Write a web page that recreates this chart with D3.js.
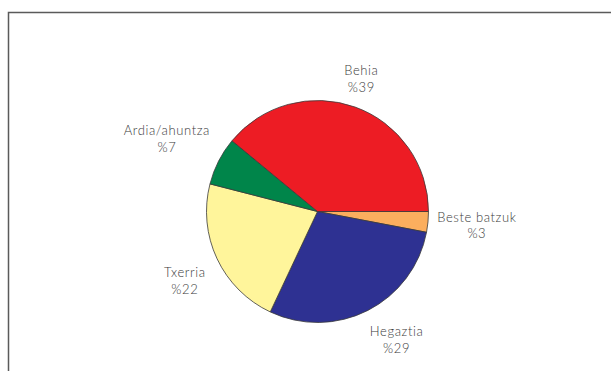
<!DOCTYPE html>
<html>
<head>
<meta charset="utf-8">
<script src="https://cdn.jsdelivr.net/npm/d3@7"></script>
<style>
  html, body { margin: 0; padding: 0; background: #fff; }
  svg { display: block; }
  .lbl { font-family: Lato, "Open Sans", sans-serif; font-weight: 300; font-size: 13px; fill: #3a3a3a; letter-spacing: 0.6px; }
</style>
</head>
<body>
<svg id="chart" width="611" height="371"></svg>
<script>
// Livestock shares, clockwise from 3 o'clock
const categories = ["Beste batzuk", "Hegaztia", "Txerria", "Ardia/ahuntza", "Behia"];
const shares = [3, 29, 22, 7, 39];
const colors = ["#fbae5e", "#2e3192", "#fff59b", "#00854a", "#ed1c24"];

const W = 611, H = 371;
const svg = d3.select("#chart");

// outer frame
svg.append("path")
  .attr("d", "M8.5,371 L8.5,12.5 L611,12.5")
  .attr("fill", "none")
  .attr("stroke", "#5a5a5a")
  .attr("stroke-width", 1.5);

const cx = 317.5, cy = 211.5, r = 111;
const g = svg.append("g").attr("transform", `translate(${cx},${cy})`);

const pie = d3.pie()
  .sort(null)
  .value(d => d.value)
  .startAngle(Math.PI / 2)
  .endAngle(Math.PI / 2 + 2 * Math.PI);

const data = categories.map((c, i) => ({ name: c, value: shares[i], color: colors[i] }));
const arcs = pie(data);

const arc = d3.arc().innerRadius(0).outerRadius(r);

g.selectAll("path.slice")
  .data(arcs)
  .join("path")
  .attr("class", "slice")
  .attr("d", arc)
  .attr("fill", d => d.data.color)
  .attr("stroke", "#3a3a3a")
  .attr("stroke-width", 0.8)
  .attr("stroke-linejoin", "round");

// labels sit outside the pie along each slice's mid-angle, nudged to clear the rim
const labelR = 150;
const nudge = [[10, -4], [11, -9], [3, 2], [-17, -8], [-7, 5]];
const lineGap = 16.5;

arcs.forEach((a, i) => {
  const mid = (a.startAngle + a.endAngle) / 2;
  const x = Math.sin(mid) * labelR + nudge[i][0];
  const y = -Math.cos(mid) * labelR + nudge[i][1];
  const t = g.append("text")
    .attr("class", "lbl")
    .attr("text-anchor", "middle")
    .attr("x", x)
    .attr("y", y);
  t.append("tspan").attr("x", x).attr("y", y).text(a.data.name);
  t.append("tspan").attr("x", x).attr("y", y + lineGap).text("%" + a.data.value);
});
</script>
</body>
</html>
